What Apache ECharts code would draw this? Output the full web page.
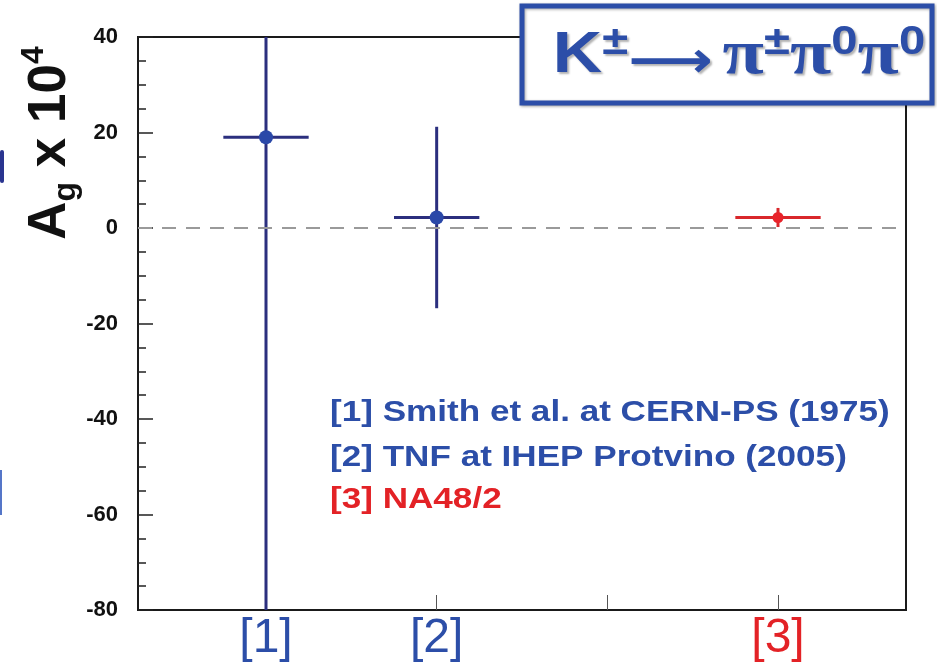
<!DOCTYPE html>
<html><head><meta charset="utf-8">
<script src="https://cdn.jsdelivr.net/npm/echarts@6/dist/echarts.min.js"></script>
<style>html,body{margin:0;padding:0;background:#fff}#c{width:937px;height:668px}</style>
</head><body><div id="c"></div>
<script>
// ---- data ----
const refLabels = ['[1]', '[2]', '[3]'];
const refX = [1, 2, 4];
const centralValues = [19, 2.2, 2.2];
const yErrors = [125, 19, 2];
const xHalfWidths = [0.25, 0.25, 0.25];
const xTickValues = [1, 2, 3, 4];
const yMin = -80, yMax = 40, yStep = 20;
const legendLines = ['[1] Smith et al. at CERN-PS (1975)', '[2] TNF at IHEP Protvino (2005)', '[3] NA48/2'];

// ---- styles ----
const BLUE = '#2c4ea8';
const RED = '#e32226';
const pointColors = ['#2a48a8', '#2a48a8', '#e8232a'];
const barColors = ['#2b2f7e', '#2b2f7e', '#d9272b'];
const markerRadii = [7, 7, 5.5];
const labelColors = [BLUE, BLUE, RED];
const FONT = '"Liberation Sans", Arial, sans-serif';

const chart = echarts.init(document.getElementById('c'), null, {renderer: 'canvas'});

const seriesData = refX.map((x, i) => [x, centralValues[i], yErrors[i], xHalfWidths[i]]);
const labelByX = {};
refX.forEach((x, i) => { labelByX[x] = i; });

const shadow = {textShadowColor: 'rgba(0,0,0,0.3)', textShadowBlur: 2, textShadowOffsetX: 2, textShadowOffsetY: 2};

const option = {
  backgroundColor: '#fff',
  animation: false,
  grid: {left: 138, right: 31, top: 37, bottom: 58, show: true, borderColor: '#1a1a1a', borderWidth: 2, backgroundColor: 'transparent'},
  xAxis: {
    type: 'value', min: 0.25, max: 4.75,
    axisLine: {show: false, onZero: false},
    splitLine: {show: false},
    axisTick: {show: true, inside: true, length: 15, customValues: xTickValues, lineStyle: {color: '#555', width: 1}},
    axisLabel: {
      show: true, margin: 5, customValues: refX,
      formatter: v => { const i = labelByX[v]; return i === undefined ? '' : '{c' + i + '|' + refLabels[i] + '}'; },
      rich: {
        c0: {fontSize: 48, fontFamily: FONT, color: labelColors[0]},
        c1: {fontSize: 48, fontFamily: FONT, color: labelColors[1]},
        c2: {fontSize: 48, fontFamily: FONT, color: labelColors[2]}
      }
    }
  },
  yAxis: {
    type: 'value', min: yMin, max: yMax, interval: yStep,
    axisLine: {show: false, onZero: false},
    splitLine: {show: false},
    axisTick: {show: true, inside: true, length: 15, lineStyle: {color: '#222', width: 1.5}},
    minorTick: {show: true, splitNumber: 4, length: 8, lineStyle: {color: '#222', width: 1.5}},
    axisLabel: {margin: 20, fontSize: 22, fontWeight: 'bold', color: '#111', fontFamily: FONT}
  },
  series: [{
    type: 'custom',
    data: seriesData,
    clip: true,
    renderItem: (params, api) => {
      const i = params.dataIndex;
      const x = api.value(0), y = api.value(1), ey = api.value(2), ex = api.value(3);
      const cs = params.coordSys;
      const clampY = v => Math.max(cs.y, Math.min(cs.y + cs.height, v));
      const c = api.coord([x, y]);
      const t = api.coord([x, y + ey]);
      const b = api.coord([x, y - ey]);
      const l = api.coord([x - ex, y]);
      const r = api.coord([x + ex, y]);
      return {
        type: 'group',
        children: [
          {type: 'line', shape: {x1: c[0], y1: clampY(t[1]), x2: c[0], y2: clampY(b[1])}, style: {stroke: barColors[i], lineWidth: 3}},
          {type: 'line', shape: {x1: l[0], y1: c[1], x2: r[0], y2: c[1]}, style: {stroke: barColors[i], lineWidth: 3}},
          {type: 'circle', shape: {cx: c[0], cy: c[1], r: markerRadii[i]}, style: {fill: pointColors[i]}}
        ]
      };
    },
    markLine: {
      silent: true, symbol: 'none', label: {show: false},
      lineStyle: {type: [14, 10], color: '#9a9a9a', width: 2},
      data: [{yAxis: 0}]
    },
    z: 3
  }],
  graphic: [
    // fragments of neighbouring slide content at the left edge
    {type: 'rect', shape: {x: 0, y: 150, width: 4, height: 33, r: 2}, style: {fill: '#2a3590'}},
    {type: 'rect', shape: {x: 0, y: 470, width: 2, height: 45}, style: {fill: '#5576c8'}},
    // y-axis title
    {
      type: 'text', x: 50, y: 143, rotation: Math.PI / 2,
      style: {
        text: '{a|A}{g|g}{a| x 10}{e|4}',
        align: 'center', verticalAlign: 'middle',
        rich: {
          a: {fontSize: 53, fontWeight: 'bold', fontFamily: FONT, fill: '#111', verticalAlign: 'middle', lineHeight: 64},
          g: {fontSize: 32, fontWeight: 'bold', fontFamily: FONT, fill: '#111', verticalAlign: 'bottom', lineHeight: 64},
          e: {fontSize: 32, fontWeight: 'bold', fontFamily: FONT, fill: '#111', verticalAlign: 'top', lineHeight: 64}
        }
      }
    },
    // title box
    {type: 'rect', shape: {x: 522, y: 6, width: 410, height: 97}, style: {fill: '#fff', stroke: BLUE, lineWidth: 5, shadowBlur: 3, shadowColor: 'rgba(0,0,0,0.35)', shadowOffsetX: 1, shadowOffsetY: 1}, z: 10},
    {
      type: 'text', x: 739, y: 56, z: 11, scaleX: 1.18,
      style: {
        text: '{k|K}{s|±}{a|⟶}{sp| }{p|π}{s|±}{p|π}{s|0}{p|π}{s|0}',
        align: 'center', verticalAlign: 'middle',
        rich: {
          k: Object.assign({fontSize: 58, fontWeight: 'bold', fontFamily: FONT, fill: BLUE, verticalAlign: 'middle', lineHeight: 66}, shadow),
          s: Object.assign({fontSize: 40, fontWeight: 'bold', fontFamily: FONT, fill: BLUE, verticalAlign: 'top', lineHeight: 66}, shadow),
          a: Object.assign({fontSize: 50, fontWeight: 'bold', fontFamily: '"DejaVu Sans"', fill: BLUE, verticalAlign: 'bottom', lineHeight: 66}, shadow),
          sp: {fontSize: 30, fontFamily: FONT, lineHeight: 66},
          p: Object.assign({fontSize: 64, fontWeight: 'bold', fontFamily: '"Liberation Serif"', fill: BLUE, verticalAlign: 'middle', lineHeight: 66}, shadow)
        }
      }
    },
    // reference list
    {type: 'text', x: 330, y: 413, scaleX: 1.17, style: {text: legendLines[0], fontSize: 30, fontWeight: 'bold', fontFamily: FONT, fill: BLUE, verticalAlign: 'middle'}},
    {type: 'text', x: 330, y: 458, scaleX: 1.17, style: {text: legendLines[1], fontSize: 30, fontWeight: 'bold', fontFamily: FONT, fill: BLUE, verticalAlign: 'middle'}},
    {type: 'text', x: 330, y: 500, scaleX: 1.17, style: {text: legendLines[2], fontSize: 30, fontWeight: 'bold', fontFamily: FONT, fill: RED, verticalAlign: 'middle'}}
  ]
};
chart.setOption(option);
</script>
</body></html>
